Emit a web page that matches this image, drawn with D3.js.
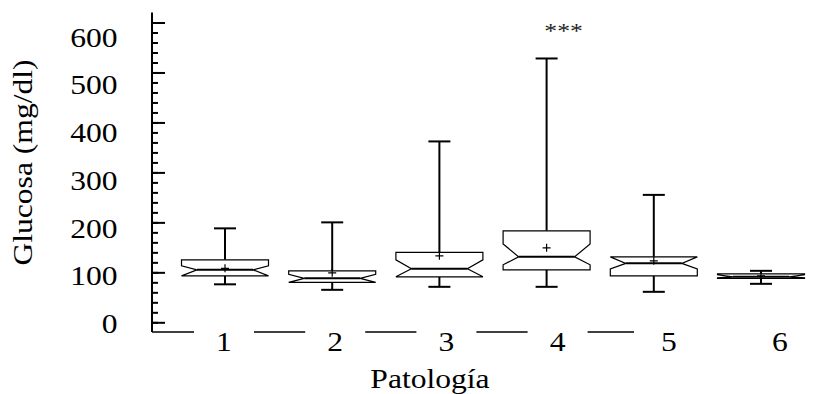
<!DOCTYPE html>
<html>
<head>
<meta charset="utf-8">
<script src="https://cdn.jsdelivr.net/npm/d3@7"></script>
<style>
  html, body { margin: 0; padding: 0; background: #fff; }
  svg { display: block; }
  text { font-family: "Liberation Serif", "DejaVu Serif", serif; fill: #000; }
</style>
</head>
<body>
<div id="chart"></div>
<script>
// values (mg/dl)
const patologias = [1, 2, 3, 4, 5, 6];
const whiskerHigh = [188, 200, 362, 528, 255, 103];
const q3 = [125, 103, 140, 183, 131, 97];
const notchHigh = [113, 96, 125, 157, 131, 95];
const medians = [105, 88, 107, 131, 118, 91];
const notchLow = [93, 80, 91, 115, 107, 89];
const q1 = [93, 80, 91, 105, 93, 88];
const whiskerLow = [76, 65, 71, 71, 61, 77];
const means = [108, 99, 133, 149, 123, 93];
const yTicks = [0, 100, 200, 300, 400, 500, 600];
const significance = [{ group: 4, label: '***' }];

const width = 830, height = 394;
const stretch = 1.17;   // the glyphs in the source are drawn wider than Times

const boxes = patologias.map((p, i) => ({
    p,
    hi: whiskerHigh[i], q3: q3[i], nHi: notchHigh[i], med: medians[i],
    nLo: notchLow[i], q1: q1[i], lo: whiskerLow[i], mean: means[i]
}));

const x = d3.scalePoint().domain(patologias).range([225, 761]);
const xLabel = d3.scalePoint().domain(patologias).range([224, 780]);
const y = d3.scaleLinear().domain([0, 600]).range([322.3, 22.5]);
const yLabel = d3.scaleLinear().domain([0, 600]).range([333, 46.5]);

const axisX = 152, axisBottom = 332;
const boxW = 87, indent = 15.5, capW = 22;

const svg = d3.select('#chart').append('svg')
    .attr('width', width)
    .attr('height', height);

// y axis
svg.append('line')
    .attr('x1', axisX).attr('x2', axisX)
    .attr('y1', y(620)).attr('y2', axisBottom)
    .attr('stroke', '#000').attr('stroke-width', 2);

const minor = svg.append('g')
    .attr('transform', `translate(${axisX},0)`)
    .call(d3.axisRight(y).tickValues(d3.range(0, 601, 20)).tickSize(6).tickFormat(''));
const major = svg.append('g')
    .attr('transform', `translate(${axisX},0)`)
    .call(d3.axisRight(y).tickValues(yTicks).tickSize(13).tickFormat(''));
[minor, major].forEach(g => {
    g.select('.domain').remove();
    g.selectAll('.tick line').attr('stroke', '#000').attr('stroke-width', 2);
});

svg.append('g')
    .selectAll('text')
    .data(yTicks)
    .join('text')
    .attr('transform', d => `translate(117.5,${yLabel(d)}) scale(${stretch},1)`)
    .attr('text-anchor', 'end')
    .style('font-size', '27px')
    .text(d => d);

svg.append('text')
    .attr('transform', `translate(32,162.5) rotate(-90) scale(${stretch},1)`)
    .attr('text-anchor', 'middle')
    .style('font-size', '27px')
    .text('Glucosa (mg/dl)');

// x axis: line broken around the tick labels
svg.append('line')
    .attr('x1', axisX).attr('x2', 634)
    .attr('y1', axisBottom).attr('y2', axisBottom)
    .attr('stroke', '#000').attr('stroke-width', 1.5);

svg.append('g')
    .selectAll('rect')
    .data(patologias)
    .join('rect')
    .attr('x', d => xLabel(d) - 30)
    .attr('y', axisBottom - 3)
    .attr('width', 60)
    .attr('height', 6)
    .attr('fill', '#fff');

svg.append('g')
    .selectAll('text')
    .data(patologias)
    .join('text')
    .attr('transform', d => `translate(${xLabel(d)},351) scale(${stretch},1)`)
    .attr('text-anchor', 'middle')
    .style('font-size', '27px')
    .text(d => d);

svg.append('text')
    .attr('transform', `translate(430,388) scale(${stretch},1)`)
    .attr('text-anchor', 'middle')
    .style('font-size', '27px')
    .text('Patología');

// boxes
const g = svg.append('g')
    .selectAll('g')
    .data(boxes)
    .join('g')
    .attr('transform', d => `translate(${x(d.p)},0)`);

g.append('line')
    .attr('y1', d => y(d.q3)).attr('y2', d => y(d.hi))
    .attr('stroke', '#000').attr('stroke-width', 2);
g.append('line')
    .attr('y1', d => y(d.q1)).attr('y2', d => y(d.lo))
    .attr('stroke', '#000').attr('stroke-width', 2);
g.append('line')
    .attr('x1', -capW / 2).attr('x2', capW / 2)
    .attr('y1', d => y(d.hi)).attr('y2', d => y(d.hi))
    .attr('stroke', '#000').attr('stroke-width', 2);
g.append('line')
    .attr('x1', -capW / 2).attr('x2', capW / 2)
    .attr('y1', d => y(d.lo)).attr('y2', d => y(d.lo))
    .attr('stroke', '#000').attr('stroke-width', 2);

const h = boxW / 2;
g.append('path')
    .attr('d', d => {
        const pts = [
            [-h, y(d.q3)], [h, y(d.q3)], [h, y(d.nHi)], [h - indent, y(d.med)],
            [h, y(d.nLo)], [h, y(d.q1)], [-h, y(d.q1)], [-h, y(d.nLo)],
            [-h + indent, y(d.med)], [-h, y(d.nHi)]
        ];
        return d3.line()(pts) + 'Z';
    })
    .attr('fill', '#fff')
    .attr('stroke', '#000')
    .attr('stroke-width', 1.2);

g.append('line')
    .attr('x1', -h + indent).attr('x2', h - indent)
    .attr('y1', d => y(d.med)).attr('y2', d => y(d.med))
    .attr('stroke', '#000').attr('stroke-width', 2);

// mean marker
g.append('path')
    .attr('d', d => `M-4,${y(d.mean)}H4M0,${y(d.mean) - 4}V${y(d.mean) + 4}`)
    .attr('stroke', '#000').attr('stroke-width', 1.2);

svg.append('g')
    .selectAll('text')
    .data(significance)
    .join('text')
    .attr('transform', d => `translate(${x(d.group) + 17},38) scale(${stretch},1)`)
    .attr('text-anchor', 'middle')
    .style('font-size', '22px')
    .style('fill', '#222')
    .text(d => d.label);
</script>
</body>
</html>
